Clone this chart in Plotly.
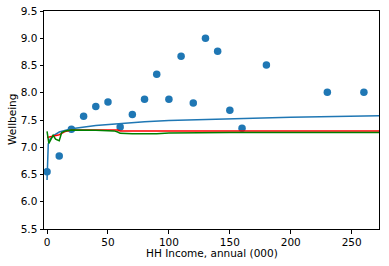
import plotly.graph_objects as go

# Observed data points
income = [0, 10, 20, 30, 40, 50, 60, 70, 80, 90, 100, 110, 120, 130, 140, 150, 160, 180, 230, 260]
wellbeing = [6.55, 6.84, 7.33, 7.57, 7.75, 7.83, 7.37, 7.60, 7.88, 8.34, 7.88, 8.67, 7.81, 9.00, 8.76, 7.68, 7.35, 8.51, 8.01, 8.01]

# Blue fitted curve
fit_x = [0, 0.5, 1, 2.5, 5, 10, 20, 40, 60, 80, 100, 150, 200, 272.4]
fit_y = [6.40, 7.00, 7.06, 7.15, 7.21, 7.28, 7.34, 7.40, 7.44, 7.47, 7.49, 7.525, 7.55, 7.58]

# Red line
red_x = [0, 10, 15, 20, 58, 60, 272.4]
red_y = [7.18, 7.23, 7.29, 7.315, 7.315, 7.30, 7.30]

# Green line
green_x = [0, 1.5, 5, 7, 10, 12, 15, 20, 40, 55, 58, 60, 70, 80, 90, 100, 150, 272.4]
green_y = [7.29, 7.07, 7.22, 7.15, 7.12, 7.27, 7.30, 7.315, 7.31, 7.30, 7.28, 7.255, 7.25, 7.245, 7.25, 7.26, 7.27, 7.27]

FONT = dict(family="DejaVu Sans", size=10.5, color="black")

fig = go.Figure()
fig.add_trace(go.Scatter(x=income, y=wellbeing, mode="markers",
                         marker=dict(color="#1f77b4", size=7.5, line=dict(width=0)),
                         showlegend=False))
fig.add_trace(go.Scatter(x=fit_x, y=fit_y, mode="lines",
                         line=dict(color="#1f77b4", width=1.5), showlegend=False))
fig.add_trace(go.Scatter(x=red_x, y=red_y, mode="lines",
                         line=dict(color="red", width=1.5), showlegend=False))
fig.add_trace(go.Scatter(x=green_x, y=green_y, mode="lines",
                         line=dict(color="green", width=1.5), showlegend=False))

axis_common = dict(showline=True, linecolor="black", linewidth=1, mirror=True,
                   ticks="outside", ticklen=3.5, tickwidth=1, tickcolor="black",
                   showgrid=False, zeroline=False, tickfont=FONT, automargin=False)

fig.update_layout(
    width=389, height=266,
    margin=dict(l=44, r=10, t=11, b=37),
    paper_bgcolor="white", plot_bgcolor="white",
    font=FONT,
    xaxis=dict(range=[-2.5, 272.4], tickvals=[0, 50, 100, 150, 200, 250],
               **axis_common),
    yaxis=dict(range=[5.5, 9.5], tickvals=[5.5, 6.0, 6.5, 7.0, 7.5, 8.0, 8.5, 9.0, 9.5],
               tickformat=".1f", **axis_common),
    annotations=[
        dict(text="HH Income, annual (000)", xref="paper", yref="paper",
             x=0.5, y=-0.11, xanchor="center", yanchor="middle",
             showarrow=False, font=FONT),
        dict(text="Wellbeing", xref="paper", yref="paper",
             x=-0.0955, y=0.5, xanchor="center", yanchor="middle",
             textangle=-90, showarrow=False, font=FONT),
    ],
)

fig.write_html("out.html",
               config={"displayModeBar": False},
               post_script="document.body.style.margin='0';document.body.style.padding='0';")
